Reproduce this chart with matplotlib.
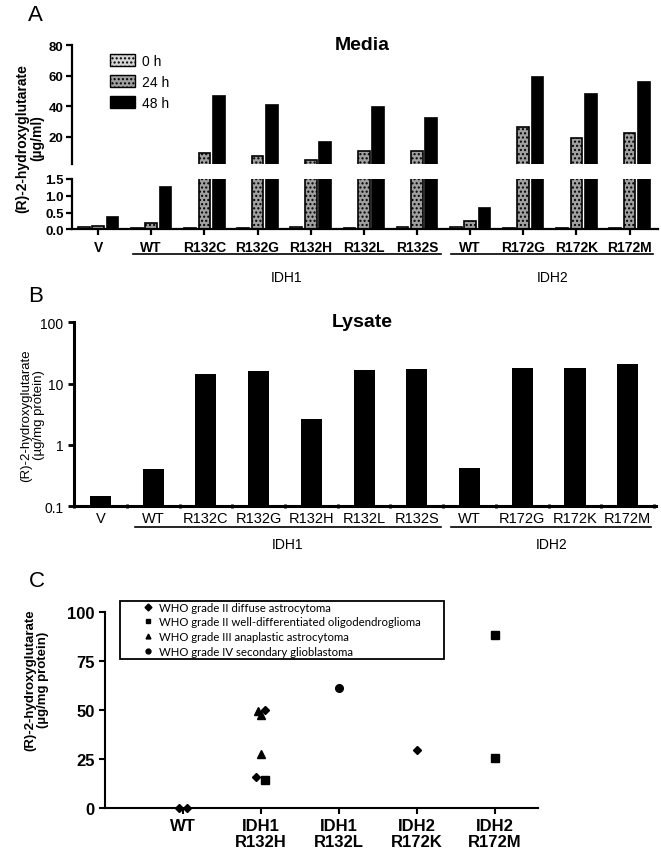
import matplotlib.pyplot as plt
from matplotlib.lines import Line2D
from matplotlib.patches import Patch, Rectangle
from matplotlib.transforms import blended_transform_factory
import numpy as np

plt.rcParams['font.family'] = ['Liberation Sans', 'DejaVu Sans']

# Panels A and B
labels = ['V', 'WT', 'R132C', 'R132G', 'R132H', 'R132L', 'R132S',
          'WT', 'R172G', 'R172K', 'R172M']
media_0h = [0.07, 0.05, 0.03, 0.05, 0.07, 0.03, 0.07, 0.07, 0.05, 0.05, 0.05]
media_24h = [0.09, 0.20, 9.4, 7.2, 4.6, 10.2, 10.2, 0.25, 26.5, 19.0, 22.0]
media_48h = [0.38, 1.27, 46.5, 40.6, 16.3, 39.2, 32.4, 0.65, 58.8, 47.8, 55.5]
lysate = [0.144, 0.40, 14.2, 16.2, 2.6, 16.5, 17.4, 0.42, 18.1, 18.1, 21.0]
groups = [('IDH1', 1, 6), ('IDH2', 7, 10)]

# Panel C
c_categories = ['WT', 'IDH1\nR132H', 'IDH1\nR132L', 'IDH2\nR172K', 'IDH2\nR172M']
astro2_cat = [0, 0, 1, 1, 3]
astro2_val = [0.0, 0.0, 49.8, 16.0, 29.4]
astro2_jit = [-0.05, 0.05, 0.05, -0.06, 0.0]
oligo2_cat = [1, 4, 4]
oligo2_val = [14.5, 88.3, 25.6]
oligo2_jit = [0.05, 0.0, 0.0]
astro3_cat = [1, 1, 1]
astro3_val = [49.5, 47.6, 27.7]
astro3_jit = [-0.04, 0.0, 0.0]
gbm4_cat = [2]
gbm4_val = [61.0]
gbm4_jit = [0.0]

fig = plt.figure(figsize=(6.61, 8.53), dpi=100)

x = np.arange(len(labels))
w = 0.22
off = 0.27
xlim = (-0.49, 10.53)


def group_lines(ax, y_line, y_text):
    tr = blended_transform_factory(ax.transData, fig.transFigure)
    for name, a, b in groups:
        x0, x1 = a - 0.35, b + 0.45
        fig.add_artist(Line2D([x0, x1], [y_line, y_line], color='black',
                              lw=1.2, transform=tr))
        fig.text((x0 + x1) / 2, y_text, name, transform=tr, ha='center',
                 va='center', fontsize=10)


# ---- Panel A: media (broken axis)
ax_up = fig.add_axes([0.109, 0.8066, 0.886, 0.1394])
ax_lo = fig.add_axes([0.109, 0.7300, 0.886, 0.0590])
for ax in (ax_up, ax_lo):
    ax.bar(x - off, media_0h, w, color='#d4d4d4', edgecolor='black', lw=1.2, hatch='....')
    ax.bar(x, media_24h, w, color='#a0a0a0', edgecolor='black', lw=1.2, hatch='....')
    ax.bar(x + off, media_48h, w, color='black', edgecolor='black', lw=1.2)
    ax.set_xlim(*xlim)
    for s in ('top', 'right'):
        ax.spines[s].set_visible(False)
    ax.spines['left'].set_linewidth(1.6)
    ax.tick_params(axis='y', width=1.6, length=4, labelsize=9.5, pad=2)

ax_up.set_ylim(2, 80)
ax_up.set_yticks([20, 40, 60, 80])
ax_up.spines['bottom'].set_visible(False)
ax_up.set_xticks([])
ax_lo.set_ylim(0, 1.5)
ax_lo.set_yticks([0.0, 0.5, 1.0, 1.5])
ax_lo.set_yticklabels(['0.0', '0.5', '1.0', '1.5'])
ax_lo.spines['bottom'].set_linewidth(1.6)
ax_lo.set_xticks(x)
ax_lo.set_xticklabels(labels, fontsize=10)
ax_lo.tick_params(axis='x', width=1.6, length=4)
for ax in (ax_up, ax_lo):
    for t in ax.get_yticklabels() + ax.get_xticklabels():
        t.set_fontweight('bold')

handles = [Patch(facecolor='#d4d4d4', edgecolor='black', hatch='....', label='0 h'),
           Patch(facecolor='#a0a0a0', edgecolor='black', hatch='....', label='24 h'),
           Patch(facecolor='black', edgecolor='black', label='48 h')]
fig.legend(handles=handles, loc='upper left', bbox_to_anchor=(0.166, 0.9355),
           frameon=False, fontsize=10, handlelength=1.8, handleheight=0.9,
           labelspacing=0.5, handletextpad=0.55, borderpad=0, borderaxespad=0)
fig.text(0.548, 0.947, 'Media', ha='center', va='center', fontsize=14, fontweight='bold')
fig.text(0.045, 0.838, '(R)-2-hydroxyglutarate\n(µg/ml)', rotation=90, ha='center',
         va='center', fontsize=10, fontweight='bold', linespacing=1.1)
fig.text(0.043, 0.982, 'A', fontsize=16, ha='left', va='center')
group_lines(ax_lo, 0.701, 0.674)

# ---- Panel B: lysate (log)
ax_b = fig.add_axes([0.112, 0.4056, 0.880, 0.2154])
ax_b.bar(x, lysate, 0.40, color='black')
ax_b.set_yscale('log')
ax_b.set_ylim(0.1, 100)
ax_b.set_xlim(*xlim)
ax_b.set_yticks([0.1, 1, 10, 100])
ax_b.set_yticklabels(['0.1', '1', '10', '100'])
ax_b.minorticks_off()
ax_b.set_xticks(x)
ax_b.set_xticklabels(labels, fontsize=10.5)
ax_b.set_xticks(np.arange(len(labels) + 1) - 0.5, minor=True)
ax_b.tick_params(axis='x', which='major', length=0)
ax_b.tick_params(axis='x', which='minor', length=3, width=2, direction='inout')
ax_b.tick_params(axis='y', width=2, length=4, labelsize=10)
for s in ('top', 'right'):
    ax_b.spines[s].set_visible(False)
for s in ('left', 'bottom'):
    ax_b.spines[s].set_linewidth(2.2)
fig.text(0.548, 0.622, 'Lysate', ha='center', va='center', fontsize=14, fontweight='bold')
fig.text(0.049, 0.513, '(R)-2-hydroxyglutarate\n(µg/mg protein)', rotation=90,
         ha='center', va='center', fontsize=9.5, linespacing=1.1)
fig.text(0.043, 0.652, 'B', fontsize=16, ha='left', va='center')
group_lines(ax_b, 0.381, 0.361)

# ---- Panel C: tumours
ax_c = fig.add_axes([0.159, 0.0516, 0.655, 0.2297])
cx = np.arange(1, len(c_categories) + 1)
series = [
    (astro2_cat, astro2_val, astro2_jit, 'D', 4, 'WHO grade II diffuse astrocytoma'),
    (oligo2_cat, oligo2_val, oligo2_jit, 's', 5.5, 'WHO grade II well-differentiated oligodendroglioma'),
    (astro3_cat, astro3_val, astro3_jit, '^', 6, 'WHO grade III anaplastic astrocytoma'),
    (gbm4_cat, gbm4_val, gbm4_jit, 'o', 5.5, 'WHO grade IV secondary glioblastoma'),
]
for cats, vals, jit, m, ms, lab in series:
    xs = cx[np.array(cats)] + np.array(jit)
    ax_c.plot(xs, vals, ls='none', marker=m, ms=ms, color='black', label=lab,
              clip_on=False)
ax_c.set_xlim(0, 5.55)
ax_c.set_ylim(0, 100)
ax_c.set_yticks([0, 25, 50, 75, 100])
ax_c.set_xticks(cx)
ax_c.set_xticklabels(c_categories, fontsize=12, fontweight='bold', linespacing=1.05)
for t in ax_c.get_yticklabels():
    t.set_fontweight('bold')
ax_c.tick_params(axis='y', labelsize=12, width=1.5, length=4)
ax_c.tick_params(axis='x', width=1.5, length=4)
for s in ('top', 'right'):
    ax_c.spines[s].set_visible(False)
for s in ('left', 'bottom'):
    ax_c.spines[s].set_linewidth(1.5)
leg = fig.legend(*ax_c.get_legend_handles_labels(), loc='upper left',
                 bbox_to_anchor=(0.217, 0.2935), borderaxespad=0, borderpad=0,
                 frameon=False, handlelength=0.8, handletextpad=0.6,
                 labelspacing=0.33, prop={'family': 'Lato', 'size': 8.2})
for h in leg.legend_handles:
    h.set_markersize(3.5)
fig.add_artist(Rectangle((0.1815, 0.2263), 0.4902, 0.068, transform=fig.transFigure,
                         fill=False, edgecolor='black', lw=1.3))
fig.text(0.056, 0.203, '(R)-2-hydroxyglutarate\n(µg/mg protein)', rotation=90,
         ha='center', va='center', fontsize=9.5, fontweight='bold', linespacing=1.1)
fig.text(0.043, 0.318, 'C', fontsize=16, ha='left', va='center')

fig.savefig('out.png', dpi=100)
